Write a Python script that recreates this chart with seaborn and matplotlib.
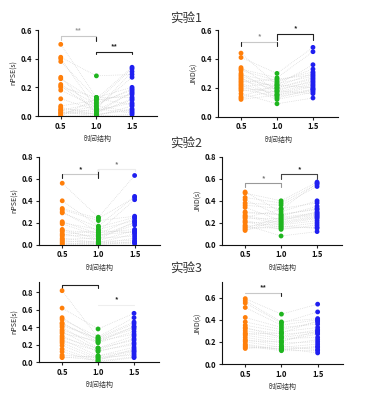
import pandas as pd
import seaborn as sns
import matplotlib.pyplot as plt

# time-structure conditions on the x axis
conditions = [0.5, 1.0, 1.5]
cond_labels = ['0.5', '1.0', '1.5']
palette = {'0.5': '#ff7f0a', '1.0': '#1fb51f', '1.5': '#1f1ff0'}
xlabel = '时间结构'

# experiment 1
exp1_npse_a = [0.50, 0.41, 0.40, 0.38, 0.27, 0.26, 0.22, 0.20, 0.18, 0.12, 0.07, 0.06, 0.05, 0.04, 0.03, 0.02, 0.02, 0.01, 0.00, 0.00, 0.21, 0.04]
exp1_npse_b = [0.13, 0.28, 0.05, 0.12, 0.02, 0.10, 0.08, 0.13, 0.06, 0.04, 0.11, 0.01, 0.03, 0.09, 0.00, 0.07, 0.02, 0.05, 0.12, 0.00, 0.04, 0.01]
exp1_npse_c = [0.20, 0.29, 0.31, 0.34, 0.17, 0.33, 0.19, 0.13, 0.27, 0.09, 0.15, 0.05, 0.11, 0.18, 0.07, 0.03, 0.12, 0.02, 0.08, 0.01, 0.16, 0.04]
exp1_jnd_a = [0.44, 0.41, 0.34, 0.33, 0.32, 0.30, 0.29, 0.28, 0.27, 0.26, 0.25, 0.24, 0.23, 0.22, 0.21, 0.20, 0.19, 0.18, 0.16, 0.14, 0.13, 0.12]
exp1_jnd_b = [0.22, 0.30, 0.18, 0.27, 0.25, 0.16, 0.24, 0.20, 0.13, 0.21, 0.19, 0.26, 0.15, 0.12, 0.23, 0.17, 0.14, 0.20, 0.09, 0.22, 0.18, 0.15]
exp1_jnd_c = [0.36, 0.48, 0.25, 0.45, 0.31, 0.22, 0.33, 0.27, 0.19, 0.30, 0.24, 0.29, 0.21, 0.17, 0.28, 0.23, 0.18, 0.26, 0.13, 0.20, 0.16, 0.19]

# experiment 2
exp2_npse_a = [0.56, 0.40, 0.33, 0.32, 0.30, 0.29, 0.21, 0.20, 0.19, 0.14, 0.13, 0.12, 0.10, 0.08, 0.06, 0.05, 0.04, 0.03, 0.02, 0.01, 0.00, 0.09]
exp2_npse_b = [0.25, 0.17, 0.24, 0.22, 0.12, 0.16, 0.10, 0.14, 0.08, 0.05, 0.11, 0.07, 0.04, 0.09, 0.02, 0.06, 0.01, 0.03, 0.00, 0.02, 0.01, 0.13]
exp2_npse_c = [0.63, 0.44, 0.43, 0.26, 0.41, 0.25, 0.24, 0.22, 0.20, 0.21, 0.14, 0.18, 0.13, 0.12, 0.10, 0.08, 0.06, 0.04, 0.03, 0.02, 0.01, 0.11]
exp2_jnd_a = [0.48, 0.47, 0.43, 0.41, 0.38, 0.36, 0.34, 0.29, 0.27, 0.26, 0.24, 0.22, 0.21, 0.20, 0.18, 0.17, 0.16, 0.15, 0.14, 0.13, 0.25, 0.30]
exp2_jnd_b = [0.30, 0.40, 0.38, 0.26, 0.36, 0.33, 0.22, 0.28, 0.20, 0.18, 0.24, 0.16, 0.14, 0.21, 0.08, 0.19, 0.15, 0.25, 0.17, 0.23, 0.32, 0.27]
exp2_jnd_c = [0.40, 0.57, 0.55, 0.35, 0.53, 0.38, 0.30, 0.32, 0.25, 0.22, 0.28, 0.20, 0.18, 0.26, 0.12, 0.24, 0.16, 0.29, 0.15, 0.27, 0.56, 0.33]

# experiment 3
exp3_npse_a = [0.82, 0.62, 0.51, 0.49, 0.45, 0.42, 0.40, 0.37, 0.35, 0.33, 0.30, 0.28, 0.26, 0.24, 0.22, 0.19, 0.15, 0.12, 0.08, 0.06, 0.05, 0.44]
exp3_npse_b = [0.28, 0.38, 0.25, 0.29, 0.23, 0.27, 0.16, 0.22, 0.14, 0.24, 0.12, 0.16, 0.07, 0.13, 0.05, 0.03, 0.01, 0.00, 0.05, 0.02, 0.07, 0.26]
exp3_npse_c = [0.46, 0.56, 0.38, 0.51, 0.41, 0.44, 0.30, 0.35, 0.27, 0.32, 0.22, 0.25, 0.17, 0.20, 0.12, 0.10, 0.06, 0.05, 0.08, 0.15, 0.13, 0.40]
exp3_jnd_a = [0.59, 0.57, 0.55, 0.51, 0.42, 0.38, 0.35, 0.32, 0.30, 0.28, 0.26, 0.24, 0.22, 0.20, 0.18, 0.16, 0.15, 0.14, 0.27, 0.33, 0.21, 0.17]
exp3_jnd_b = [0.45, 0.38, 0.37, 0.35, 0.33, 0.31, 0.29, 0.27, 0.25, 0.23, 0.21, 0.19, 0.17, 0.15, 0.13, 0.12, 0.14, 0.16, 0.28, 0.24, 0.20, 0.13]
exp3_jnd_c = [0.54, 0.41, 0.47, 0.40, 0.36, 0.38, 0.33, 0.29, 0.31, 0.24, 0.27, 0.20, 0.22, 0.18, 0.15, 0.12, 0.10, 0.13, 0.39, 0.28, 0.30, 0.16]

exp_titles = ['实验1', '实验2', '实验3']


def make_df(a, b, c):
    n = len(a)
    return pd.DataFrame({
        'subject': list(range(n)) * 3,
        'x': [conditions[0]] * n + [conditions[1]] * n + [conditions[2]] * n,
        'y': a + b + c,
        'cond': [cond_labels[0]] * n + [cond_labels[1]] * n + [cond_labels[2]] * n,
    })


def bracket(ax, x1, x2, y, h, text, line_col, tick_col, text_col, ty=None):
    ax.plot([x1, x2], [y, y], color=line_col, lw=0.8, clip_on=False)
    ax.plot([x1, x1], [y, y - h], color=tick_col, lw=0.8, clip_on=False)
    ax.plot([x2, x2], [y, y - h], color=tick_col, lw=0.8, clip_on=False)
    if text:
        ax.text((x1 + x2) / 2, ty if ty is not None else y + h * 0.3, text,
                ha='center', va='bottom', fontsize=5, color=text_col, fontweight='bold')


def draw_panel(ax, df, ylabel, ymax, yticks):
    sns.lineplot(data=df, x='x', y='y', units='subject', estimator=None,
                 color='#d0d0d0', lw=0.5, ls=':', ax=ax)
    sns.scatterplot(data=df, x='x', y='y', hue='cond', palette=palette, s=12,
                    linewidth=0, legend=False, ax=ax, zorder=3)
    ax.set_xlim(0.18, 1.85)
    ax.set_ylim(0, ymax)
    ax.set_xticks(conditions)
    ax.set_xticklabels(cond_labels)
    ax.set_yticks(yticks)
    ax.set_yticklabels([f'{t:.1f}' for t in yticks])
    ax.set_xlabel(xlabel, fontsize=5, color='#333333', labelpad=3)
    ax.set_ylabel(ylabel, fontsize=5, color='#222222', labelpad=2)
    ax.tick_params(labelsize=5.5, length=2.5, width=0.8, pad=1.5, labelcolor='#111111')
    for lab in ax.get_xticklabels() + ax.get_yticklabels():
        lab.set_fontweight('bold')
    for side in ['left', 'bottom']:
        ax.spines[side].set_linewidth(0.8)
        ax.spines[side].set_color('#111111')
    sns.despine(ax=ax)


sns.set_style('ticks')
plt.rcParams['font.family'] = ['Noto Sans CJK SC', 'DejaVu Sans']

fig = plt.figure(figsize=(3.72, 4.0), dpi=100)

positions = [
    [0.102, 0.710, 0.320, 0.215], [0.586, 0.708, 0.323, 0.217],
    [0.105, 0.388, 0.325, 0.220], [0.597, 0.388, 0.323, 0.220],
    [0.105, 0.095, 0.323, 0.200], [0.597, 0.090, 0.325, 0.205],
]
axes = [fig.add_axes(p) for p in positions]

light = '#c8c8c8'
dark = '#222222'

# experiment 1
draw_panel(axes[0], make_df(exp1_npse_a, exp1_npse_b, exp1_npse_c), 'nPSE(s)', 0.6, [0.0, 0.2, 0.4, 0.6])
bracket(axes[0], 0.5, 1.0, 0.56, 0.03, '**', light, light, '#999999')
axes[0].plot([1.0, 1.0], [0.55, 0.52], color=dark, lw=0.8)
bracket(axes[0], 1.0, 1.5, 0.45, 0.02, '**', dark, dark, dark)
draw_panel(axes[1], make_df(exp1_jnd_a, exp1_jnd_b, exp1_jnd_c), 'JND(s)', 0.6, [0.0, 0.2, 0.4, 0.6])
bracket(axes[1], 0.5, 1.0, 0.52, 0.03, '*', light, dark, '#888888')
bracket(axes[1], 1.0, 1.5, 0.57, 0.04, '*', dark, dark, dark)

# experiment 2
draw_panel(axes[2], make_df(exp2_npse_a, exp2_npse_b, exp2_npse_c), 'nPSE(s)', 0.8, [0.0, 0.2, 0.4, 0.6, 0.8])
bracket(axes[2], 0.5, 1.0, 0.64, 0.03, '*', light, dark, dark)
axes[2].plot([1.0, 1.0], [0.69, 0.64], color=dark, lw=0.8)
bracket(axes[2], 1.0, 1.5, 0.69, 0.02, '*', '#ececec', '#ececec', '#777777')
draw_panel(axes[3], make_df(exp2_jnd_a, exp2_jnd_b, exp2_jnd_c), 'JND(s)', 0.8, [0.0, 0.2, 0.4, 0.6, 0.8])
bracket(axes[3], 0.5, 1.0, 0.56, 0.03, '*', '#999999', '#999999', '#777777')
bracket(axes[3], 1.0, 1.5, 0.64, 0.04, '*', '#444444', '#444444', dark)

# experiment 3
draw_panel(axes[4], make_df(exp3_npse_a, exp3_npse_b, exp3_npse_c), 'nPSE(s)', 0.92, [0.0, 0.2, 0.4, 0.6, 0.8])
bracket(axes[4], 0.5, 1.0, 0.89, 0.04, '', dark, dark, dark)
bracket(axes[4], 1.0, 1.5, 0.65, 0.0, '*', '#eeeeee', '#eeeeee', dark, ty=0.67)
draw_panel(axes[5], make_df(exp3_jnd_a, exp3_jnd_b, exp3_jnd_c), 'JND(s)', 0.74, [0.0, 0.2, 0.4, 0.6])
bracket(axes[5], 0.5, 1.0, 0.645, 0.0, '**', light, light, dark, ty=0.66)
axes[5].plot([1.0, 1.0], [0.645, 0.61], color=dark, lw=0.8)

for title, y in zip(exp_titles, [0.955, 0.642, 0.33]):
    fig.text(0.5, y, title, ha='center', va='center', fontsize=9, color='#333333')

fig.savefig('out.png', dpi=100)
